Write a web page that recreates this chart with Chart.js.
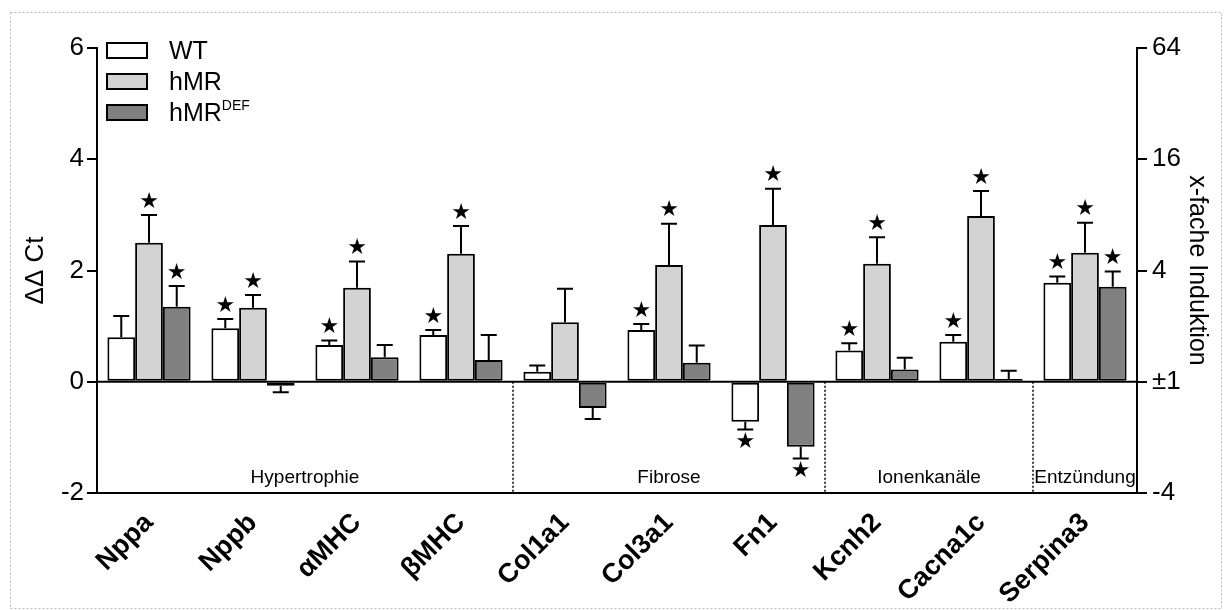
<!DOCTYPE html>
<html>
<head>
<meta charset="utf-8">
<script src="https://cdn.jsdelivr.net/npm/chart.js@4.4.1/dist/chart.umd.min.js"></script>
<style>
  html, body { margin: 0; padding: 0; background: #fff; }
  #wrap { width: 1224px; height: 610px; }
</style>
</head>
<body>
<div id="wrap"><canvas id="qpcrChart" width="1224" height="610"></canvas></div>
<script>
// Genes and groups
const genes = ['Nppa', 'Nppb', 'αMHC', 'βMHC', 'Col1a1', 'Col3a1', 'Fn1', 'Kcnh2', 'Cacna1c', 'Serpina3'];
const groupNames = ['Hypertrophie', 'Fibrose', 'Ionenkanäle', 'Entzündung'];
const groupEnds = [3, 6, 8, 9]; // index of last gene in each group

// ΔΔCt means
const wtValues = [0.80, 0.96, 0.66, 0.84, 0.18, 0.93, -0.72, 0.56, 0.72, 1.78];
const hmrValues = [2.50, 1.33, 1.69, 2.30, 1.07, 2.10, 2.82, 2.12, 2.98, 2.32];
const defValues = [1.35, -0.07, 0.44, 0.39, -0.47, 0.34, -1.17, 0.22, 0.05, 1.71];

// error (SEM) magnitudes
const wtErr = [0.38, 0.17, 0.08, 0.09, 0.11, 0.11, 0.14, 0.13, 0.12, 0.11];
const hmrErr = [0.50, 0.23, 0.47, 0.50, 0.60, 0.74, 0.65, 0.48, 0.45, 0.54];
const defErr = [0.37, 0.12, 0.22, 0.45, 0.20, 0.31, 0.21, 0.21, 0.15, 0.27];

// significance marks
const wtStar = [0, 1, 1, 1, 0, 1, 1, 1, 1, 1];
const hmrStar = [1, 1, 1, 1, 0, 1, 1, 1, 1, 1];
const defStar = [1, 0, 0, 0, 0, 0, 1, 0, 0, 1];

// axis ticks
const yTicks = [-2, 0, 2, 4, 6];
const rightLabels = ['-4', '±1', '4', '16', '64'];

const FONT = 'Arial, "Liberation Sans", Helvetica, sans-serif';

// error bars + stars
const errorBarPlugin = {
  id: 'errorBars',
  afterDatasetsDraw(chart) {
    const ctx = chart.ctx;
    const y = chart.scales.y;
    chart.data.datasets.forEach((ds, di) => {
      const meta = chart.getDatasetMeta(di);
      meta.data.forEach((bar, i) => {
        const v = ds.data[i];
        const dir = v < 0 ? -1 : 1;
        const tip = v + dir * ds.errors[i];
        const yb = y.getPixelForValue(v);
        const yt = y.getPixelForValue(tip);
        ctx.save();
        ctx.strokeStyle = '#000';
        ctx.lineWidth = 2;
        ctx.beginPath();
        ctx.moveTo(bar.x, yb);
        ctx.lineTo(bar.x, yt);
        ctx.moveTo(bar.x - 8, yt);
        ctx.lineTo(bar.x + 8, yt);
        ctx.stroke();
        if (ds.stars[i]) {
          ctx.fillStyle = '#000';
          ctx.font = '22px "DejaVu Sans", sans-serif';
          ctx.textAlign = 'center';
          ctx.textBaseline = 'middle';
          ctx.fillText('★', bar.x, yt - dir * 13);
        }
        ctx.restore();
      });
    });
  }
};

// zero line, group separators, group labels, legend, frame
const decorPlugin = {
  id: 'decor',
  beforeDraw(chart) {
    const ctx = chart.ctx;
    ctx.save();
    ctx.fillStyle = '#fff';
    ctx.fillRect(0, 0, chart.width, chart.height);
    ctx.strokeStyle = '#bdbdbd';
    ctx.setLineDash([2, 2]);
    ctx.lineWidth = 1;
    ctx.strokeRect(10.5, 12.5, 1211, 596);
    ctx.restore();
  },
  afterDraw(chart) {
    const ctx = chart.ctx;
    const x = chart.scales.x;
    const y = chart.scales.y;
    const area = chart.chartArea;
    const y0 = y.getPixelForValue(0);
    ctx.save();
    // zero line
    ctx.strokeStyle = '#000';
    ctx.lineWidth = 2;
    ctx.beginPath();
    ctx.moveTo(area.left, y0);
    ctx.lineTo(area.right, y0);
    ctx.stroke();
    // separators
    const half = (x.getPixelForTick(1) - x.getPixelForTick(0)) / 2;
    let start = area.left;
    ctx.font = '19px ' + FONT;
    ctx.fillStyle = '#000';
    ctx.textAlign = 'center';
    ctx.textBaseline = 'middle';
    groupEnds.forEach((end, gi) => {
      const sep = gi < groupEnds.length - 1 ? x.getPixelForTick(end) + half : area.right;
      if (gi < groupEnds.length - 1) {
        ctx.save();
        ctx.setLineDash([2, 2]);
        ctx.lineWidth = 1.5;
        ctx.beginPath();
        ctx.moveTo(sep, y0);
        ctx.lineTo(sep, area.bottom);
        ctx.stroke();
        ctx.restore();
      }
      ctx.fillText(groupNames[gi], (start + sep) / 2, area.bottom - 15);
      start = sep;
    });
    // legend
    const items = chart.data.datasets;
    items.forEach((ds, i) => {
      const top = 43 + i * 31;
      ctx.fillStyle = ds.backgroundColor;
      ctx.fillRect(107, top, 40, 15);
      ctx.lineWidth = 2;
      ctx.strokeStyle = '#000';
      ctx.strokeRect(107, top, 40, 15);
      ctx.fillStyle = '#000';
      ctx.textAlign = 'left';
      ctx.textBaseline = 'middle';
      ctx.font = '25px ' + FONT;
      const base = ds.label.replace('DEF', '');
      ctx.fillText(base, 169, top + 9);
      if (ds.label.endsWith('DEF')) {
        const w = ctx.measureText(base).width;
        ctx.font = '14px ' + FONT;
        ctx.fillText('DEF', 169 + w, top + 1);
      }
    });
    ctx.restore();
  }
};

new Chart(document.getElementById('qpcrChart'), {
  type: 'bar',
  data: {
    labels: genes,
    datasets: [
      { label: 'WT', data: wtValues, errors: wtErr, stars: wtStar, backgroundColor: '#ffffff' },
      { label: 'hMR', data: hmrValues, errors: hmrErr, stars: hmrStar, backgroundColor: '#d3d3d3' },
      { label: 'hMRDEF', data: defValues, errors: defErr, stars: defStar, backgroundColor: '#808080' }
    ].map(d => Object.assign(d, {
      borderColor: '#000',
      borderWidth: 2,
      borderSkipped: false,
      categoryPercentage: 0.8,
      barPercentage: 1.0
    }))
  },
  options: {
    responsive: false,
    animation: false,
    layout: { padding: { top: 48, left: 0, right: 0, bottom: 0 } },
    plugins: {
      legend: { display: false },
      tooltip: { enabled: false }
    },
    scales: {
      x: {
        grid: { display: false },
        border: { display: true, color: '#000', width: 2 },
        ticks: {
          color: '#000',
          font: { family: FONT, size: 27, weight: 'bold' },
          maxRotation: 45,
          minRotation: 45,
          padding: 6
        },
        afterFit(scale) { scale.height = 117; }
      },
      y: {
        position: 'left',
        min: -2,
        max: 6,
        afterBuildTicks(scale) { scale.ticks = yTicks.map(v => ({ value: v })); },
        grid: { drawOnChartArea: false, drawTicks: true, tickLength: 10, color: '#000', lineWidth: 2 },
        border: { display: true, color: '#000', width: 2 },
        ticks: { color: '#000', font: { family: FONT, size: 26 }, padding: 3 },
        title: { display: true, text: 'ΔΔ Ct', color: '#000', font: { family: FONT, size: 26 }, padding: { top: 20, bottom: 0 } },
        afterFit(scale) { scale.width = 97; }
      },
      y2: {
        position: 'right',
        min: -2,
        max: 6,
        afterBuildTicks(scale) { scale.ticks = yTicks.map(v => ({ value: v })); },
        grid: { drawOnChartArea: false, drawTicks: true, tickLength: 10, color: '#000', lineWidth: 2 },
        border: { display: true, color: '#000', width: 2 },
        ticks: {
          color: '#000',
          font: { family: FONT, size: 26 },
          padding: 5,
          callback: (v) => rightLabels[yTicks.indexOf(v)]
        },
        title: { display: true, text: 'x-fache Induktion', color: '#000', font: { family: FONT, size: 25 }, padding: { top: 12, bottom: 0 } },
        afterFit(scale) { scale.width = 87; }
      }
    }
  },
  plugins: [errorBarPlugin, decorPlugin]
});
</script>
</body>
</html>
